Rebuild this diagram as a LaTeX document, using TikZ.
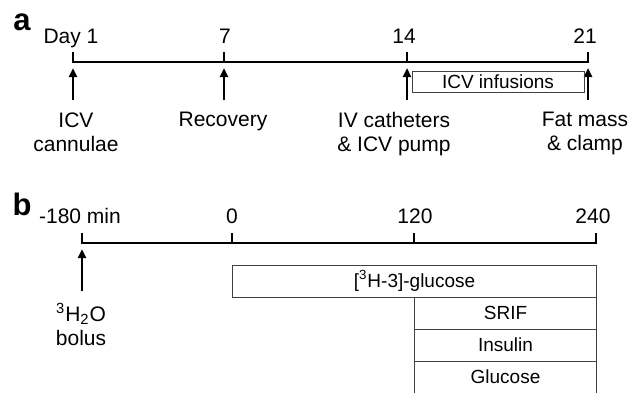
\documentclass[tikz,border=0pt]{standalone}
\usepackage{fontspec}
\setmainfont{Liberation Sans}
\usetikzlibrary{arrows.meta,positioning}
\tikzset{
  >={Triangle[length=4.5pt,width=4pt]},
  taxis/.style={black, line width=1.1pt},
  tarrow/.style={->, black, line width=1.3pt, shorten <=6pt, shorten >=3pt},
  tlbl/.style={font=\fontsize{10.5}{12}\selectfont, inner sep=0pt, align=center, anchor=north},
  tnum/.style={font=\fontsize{10.5}{12}\selectfont, inner sep=0pt, anchor=base},
  tpanel/.style={font=\fontsize{15.5}{18}\selectfont\bfseries, inner sep=0pt, anchor=base},
  tbox/.style={draw=black!75, line width=0.5pt, inner sep=0pt, outer sep=0pt,
               minimum height=16pt, font=\fontsize{9.5}{11}\selectfont},
}

\begin{document}
\begin{tikzpicture}[x=0.5pt,y=-0.5pt]
  \useasboundingbox (0,0) rectangle (631,392);

  % panel a: days
  \node[tpanel] (pa) at (22,30) {a};
  \coordinate (d1) at (73,62);
  \coordinate (d7) at (224,62);
  \coordinate (d14) at (407,62);
  \coordinate (d21) at (588,62);
  \draw[taxis] (d1) ++(0,-10) -- (d1) -- (d21) -- ++(0,-10);
  \foreach \t in {d7,d14} \draw[taxis] (\t) -- ++(0,-10);

  \node[tnum] (n1) at (71,43) {Day 1};
  \node[tnum] (n7) at (225,43) {7};
  \node[tnum] (n14) at (404,43) {14};
  \node[tnum] (n21) at (585,43) {21};

  \node[tlbl] (icv) at (76,112) {ICV\\cannulae};
  \node[tlbl] (rec) at (223,112) {Recovery};
  \node[tlbl] (cath) at (394,112) {IV catheters\\\& ICV pump};
  \node[tlbl] (fat) at (585,112) {Fat mass\\\& clamp};

  \draw[tarrow] (icv.north -| d1) -- (d1);
  \draw[tarrow] (rec.north -| d7) -- (d7);
  \draw[tarrow] (cath.north -| d14) -- (d14);
  \draw[tarrow] (fat.north -| d21) -- (d21);

  \node[tbox, minimum width=86pt, minimum height=10.5pt] (inf) at (498,81.5) {ICV infusions};

  % panel b: minutes
  \node[tpanel] (pb) at (22,215) {b};
  \coordinate (m180) at (82,243);
  \coordinate (m0) at (232,243);
  \coordinate (m120) at (414,243);
  \coordinate (m240) at (596,243);
  \draw[taxis] (m180) ++(0,-10) -- (m180) -- (m240) -- ++(0,-10);
  \foreach \t in {m0,m120} \draw[taxis] (\t) -- ++(0,-10);

  \node[tnum] (t180) at (80,223) {-180 min};
  \node[tnum] (t0) at (232,223) {0};
  \node[tnum] (t120) at (415,223) {120};
  \node[tnum] (t240) at (593,223) {240};

  \node[tlbl] (h2o) at (81,303) {\textsuperscript{3}H\textsubscript{2}O\\bolus};
  \draw[tarrow] (h2o.north -| m180) -- (m180);

  % infusion boxes
  \node[tbox, minimum width=182pt] (tracer) at (414.5,281) {[\textsuperscript{3}H-3]-glucose};
  \node[tbox, minimum width=91pt, below=0pt of tracer.south east, anchor=north east] (srif) {SRIF};
  \node[tbox, minimum width=91pt, below=0pt of srif] (ins) {Insulin};
  \node[tbox, minimum width=91pt, below=0pt of ins] (glc) {Glucose};
\end{tikzpicture}
\end{document}
